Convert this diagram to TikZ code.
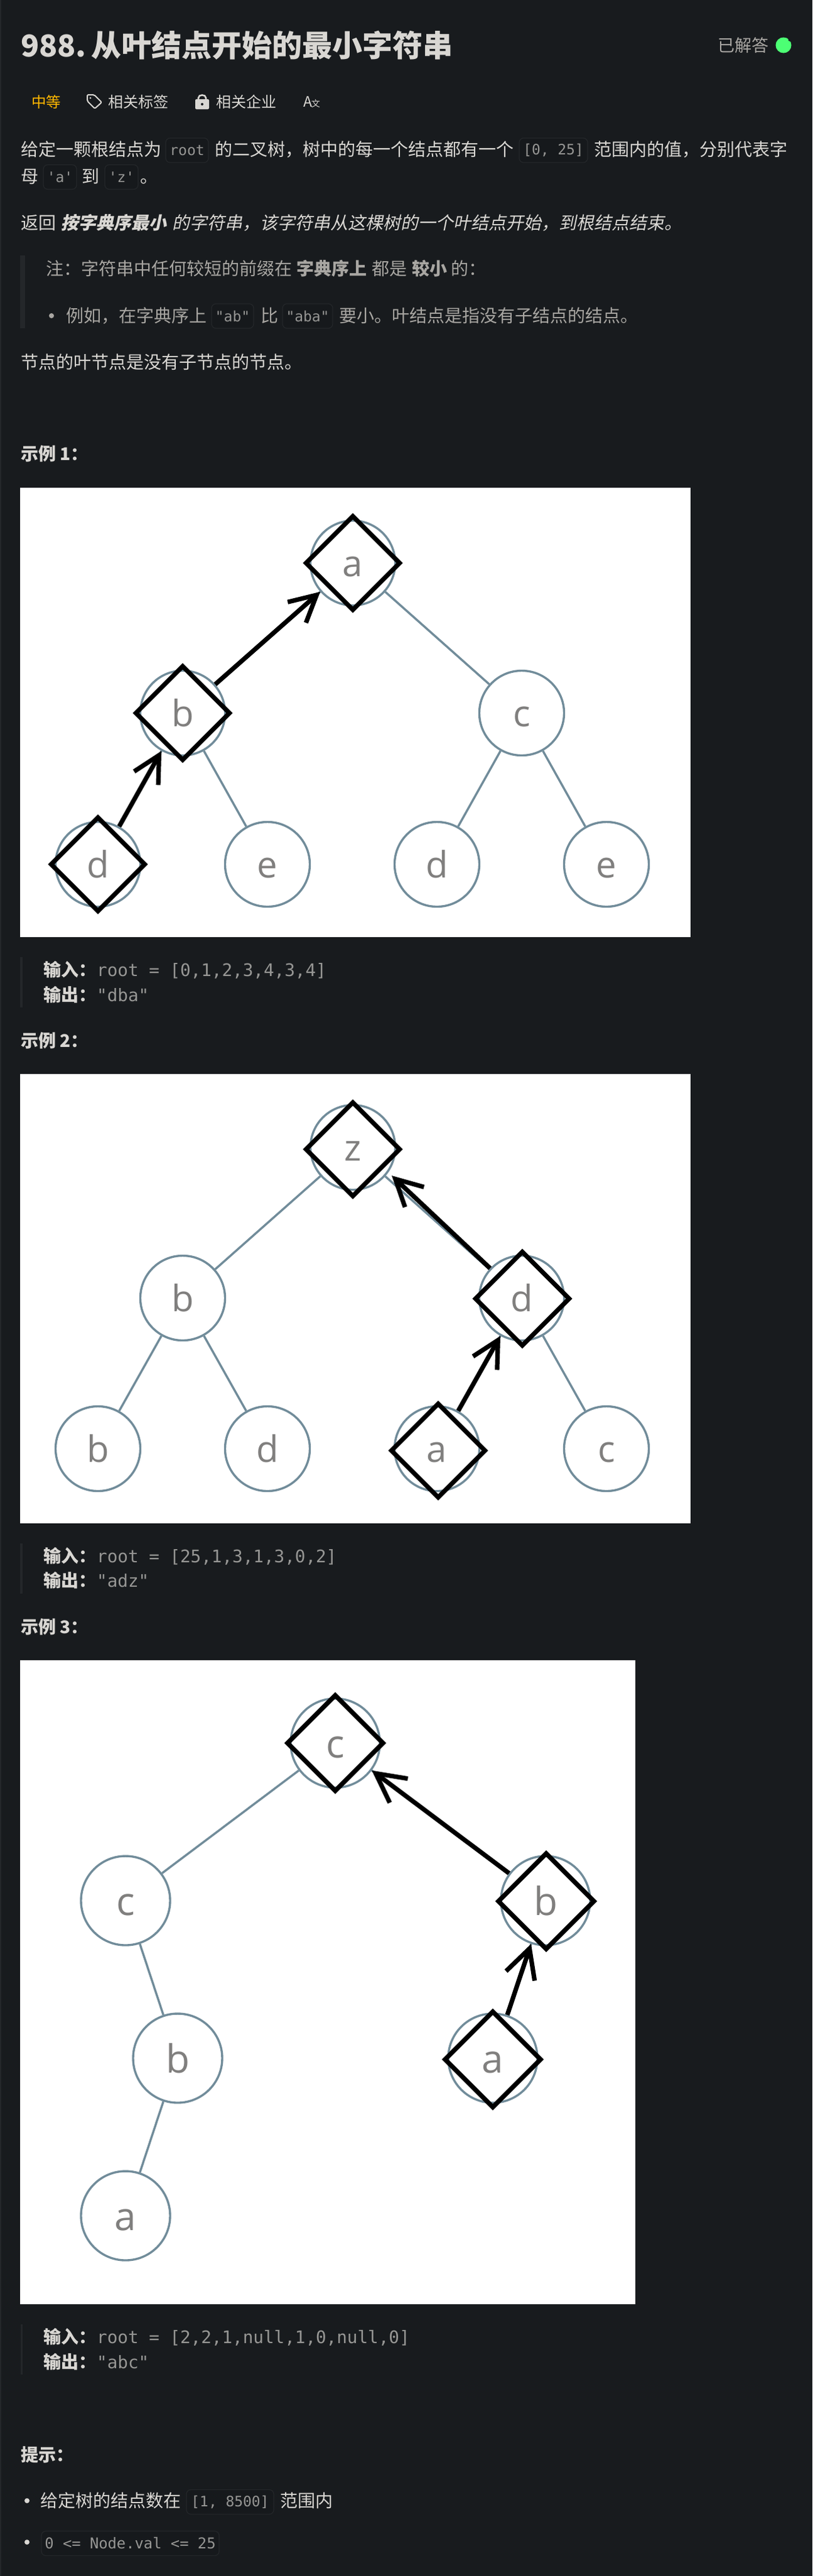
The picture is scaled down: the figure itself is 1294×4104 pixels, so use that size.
\documentclass[tikz,border=0pt]{standalone}
\usepackage{fontspec}
\usetikzlibrary{arrows.meta,shapes.geometric}
\setmainfont{Noto Sans CJK SC}
\newfontfamily\cjkit[FakeSlant=0.2]{Noto Sans CJK SC}
\newfontfamily\monof{DejaVu Sans Mono}
\newfontfamily\treef{Open Sans}
\definecolor{pagebg}{HTML}{181B1E}
\definecolor{maintext}{HTML}{D9D7D3}
\definecolor{softtext}{HTML}{A8A6A2}
\definecolor{monotext}{HTML}{969694}
\definecolor{barcol}{HTML}{24272A}
\definecolor{codeedge}{HTML}{24272A}
\definecolor{codefill}{HTML}{16191C}
\definecolor{treeline}{HTML}{718C9A}
\definecolor{treetext}{HTML}{807F7E}
\definecolor{dotgreen}{HTML}{4CFF74}
\definecolor{easyorange}{HTML}{FFB800}
\tikzset{
  txt/.style={anchor=base west,inner sep=0pt,outer sep=0pt,text=maintext,font=\fontsize{28}{28}\selectfont},
  softt/.style={txt,text=softtext},
  headt/.style={txt,font=\fontsize{28}{28}\selectfont\bfseries},
  monot/.style={anchor=base west,inner sep=0pt,text=monotext,font=\fontsize{27.6}{27.6}\selectfont\monof},
  codebox/.style={rectangle,rounded corners=7pt,draw=codeedge,line width=1.2pt,fill=codefill,minimum height=39pt,inner sep=0pt,anchor=center,text=monotext,font=\fontsize{22.9}{22.9}\selectfont\monof},
  barfill/.style={fill=barcol,draw=none},
  treen/.style={circle,draw=treeline,line width=3.4pt,fill=white,minimum size=135pt,inner sep=0pt,text=treetext,font=\fontsize{58}{58}\selectfont\treef,text height=42pt,text depth=0pt},
  treenb/.style={treen,minimum size=142pt,font=\fontsize{62}{62}\selectfont\treef,text height=46pt},
  treeedge/.style={draw=treeline,line width=3.4pt},
  pathmark/.style={diamond,aspect=1,draw=black,line width=7.2pt,minimum size=152pt,inner sep=0pt},
  pathmarkb/.style={pathmark,minimum size=155pt},
  walk/.style={draw=black,line width=7.2pt,-{Straight Barb[length=42pt,width=44pt,line width=7.2pt]}},
  walkb/.style={draw=black,line width=7.2pt,-{Straight Barb[length=46pt,width=48pt,line width=7.2pt]}},
}
\begin{document}
\begin{tikzpicture}[x=1pt,y=-1pt]
\useasboundingbox (0,0) rectangle (1294,4104);
\fill[pagebg] (0,0) rectangle (1294,4104);
\fill[barcol] (0,0) rectangle (2,4104);
% title
\node[txt,font=\fontsize{48}{48}\selectfont\bfseries] (title) at (33,90) {988.\kern 8pt 从叶结点开始的最小字符串};
\node[txt,text=softtext,font=\fontsize{27}{27}\selectfont] (solved) at (1143,82) {已解答};
\node[circle,fill=dotgreen,minimum size=25pt,inner sep=0pt] (dot) at (1248,72) {};
\fill[pagebg] (1255,59) -- (1262,60) -- (1261,67) -- (1256,65) -- cycle;
% tags
\node[txt,text=easyorange,font=\fontsize{23.5}{23.5}\selectfont] (diff) at (50,171) {中等};
\node[txt,font=\fontsize{24}{24}\selectfont] (tag1) at (172,171) {相关标签};
\draw[maintext,line width=2pt,line join=round,rounded corners=2pt] (139,151) -- (150,151) -- (162,163) -- (151,173) -- (139,161) -- cycle;
\fill[maintext] (144,156) circle (1.5);
\node[txt,font=\fontsize{24}{24}\selectfont] (tag2) at (344,171) {相关企业};
\fill[maintext,rounded corners=2pt] (311,158) rectangle (333,174);
\draw[maintext,line width=2.6pt] (316,159) -- (316,156) .. controls (316,150) and (328,150) .. (328,156) -- (328,159);
\fill[pagebg] (322,166) circle (2);
\node[txt,font=\fontsize{23}{23}\selectfont] (ax) at (483,170) {A\kern-1pt\fontsize{14}{14}\selectfont 文};
% para 1
\node[txt] (p1a) at (33,248) {给定一颗根结点为};
\node[codebox,minimum width=68pt] (c1) at (298,239.5) {root};
\node[txt] (p1b) at (342,248) {的二叉树，树中的每一个结点都有一个};
\node[codebox,minimum width=109pt] (c2) at (881.5,239.5) {[0, 25]};
\node[txt] (p1c) at (946,248) {范围内的值，分别代表字};
\node[txt] (p2a) at (33,291) {母};
\node[codebox,minimum width=53pt] (c3) at (95.5,282) {'a'};
\node[txt] (p2b) at (130,291) {到};
\node[codebox,minimum width=53pt] (c4) at (193.5,282) {'z'};
\node[txt] (p2c) at (223,291) {。};
% para 2
\node[txt] (p3a) at (33,365) {返回};
\node[txt,font=\fontsize{28}{28}\selectfont\cjkit\bfseries] (p3b) at (97,365) {按字典序最小};
\node[txt,font=\fontsize{28}{28}\selectfont\cjkit] (p3c) at (274,365) {的字符串，该字符串从这棵树的一个叶结点开始，到根结点结束。};
% quote
\fill[barfill] (32,407) rectangle (40,523);
\node[softt] (q1a) at (73,438) {注：字符串中任何较短的前缀在};
\node[softt,font=\fontsize{28}{28}\selectfont\bfseries] (q1b) at (472,438) {字典序上};
\node[softt] (q1c) at (592,438) {都是};
\node[softt,font=\fontsize{28}{28}\selectfont\bfseries] (q1d) at (656,438) {较小};
\node[softt] (q1e) at (718,438) {的：};
\fill[softtext] (82,503) circle (4);
\node[softt] (q2a) at (105,513) {例如，在字典序上};
\node[codebox,minimum width=67pt] (c5) at (370.5,503.5) {"ab"};
\node[softt] (q2b) at (415,513) {比};
\node[codebox,minimum width=80pt] (c6) at (490,503.5) {"aba"};
\node[softt] (q2c) at (540,513) {要小。叶结点是指没有子结点的结点。};
\node[txt] (p4) at (33,587) {节点的叶节点是没有子节点的节点。};
\node[headt] (h1) at (33,733) {示例 1：};
% example 1
\fill[white] (32,777) rectangle (1100,1493);
\node[treen] (a1) at (562,897) {a};
\node[treen] (b1) at (291,1136) {b};
\node[treen] (c1n) at (831,1136) {c};
\node[treen] (d1) at (156,1377) {d};
\node[treen] (e1) at (426,1377) {e};
\node[treen] (f1) at (696,1377) {d};
\node[treen] (g1) at (966,1377) {e};
\draw[treeedge] (a1) -- (b1);
\draw[treeedge] (a1) -- (c1n);
\draw[treeedge] (b1) -- (d1);
\draw[treeedge] (b1) -- (e1);
\draw[treeedge] (c1n) -- (f1);
\draw[treeedge] (c1n) -- (g1);
\node[pathmark] (ma1) at (562,897) {};
\node[pathmark] (mb1) at (291,1136) {};
\node[pathmark] (md1) at (156,1377) {};
\draw[walk] (d1) -- (b1);
\draw[walk] (b1) -- (a1);
% io 1
\fill[barfill] (32,1525) rectangle (36,1605);
\node[headt] (i1) at (69,1555) {输入：};
\node[monot] (i1v) at (154,1555) {root = [0,1,2,3,4,3,4]};
\node[headt] (o1) at (69,1595) {输出：};
\node[monot] (o1v) at (154,1595) {"dba"};
\node[headt] (h2) at (33,1668) {示例 2：};
% example 2
\fill[white] (32,1711) rectangle (1100,2427);
\node[treen] (a2) at (562,1828) {z};
\node[treen] (b2) at (291,2068) {b};
\node[treen] (c2n) at (831,2068) {d};
\node[treen] (d2) at (156,2308) {b};
\node[treen] (e2) at (426,2308) {d};
\node[treen] (f2) at (696,2308) {a};
\node[treen] (g2) at (966,2308) {c};
\draw[treeedge] (a2) -- (b2);
\draw[treeedge] (a2) -- (c2n);
\draw[treeedge] (b2) -- (d2);
\draw[treeedge] (b2) -- (e2);
\draw[treeedge] (c2n) -- (f2);
\draw[treeedge] (c2n) -- (g2);
\node[pathmark] (ma2) at (562,1831) {};
\node[pathmark] (mb2) at (832,2069) {};
\node[pathmark] (md2) at (698,2311) {};
\coordinate (tip2) at (624,1873);
\draw[walk] (f2) -- (c2n);
\draw[walk] (c2n) -- (tip2);
% io 2
\fill[barfill] (32,2459) rectangle (36,2539);
\node[headt] (i2) at (69,2489) {输入：};
\node[monot] (i2v) at (154,2489) {root = [25,1,3,1,3,0,2]};
\node[headt] (o2) at (69,2528) {输出：};
\node[monot] (o2v) at (154,2528) {"adz"};
\node[headt] (h3) at (33,2602) {示例 3：};
% example 3
\fill[white] (32,2645) rectangle (1012,3671);
\node[treenb] (a3) at (534,2777) {c};
\node[treenb] (b3) at (200,3028) {c};
\node[treenb] (c3n) at (869,3028) {b};
\node[treenb] (d3) at (283,3279) {b};
\node[treenb] (e3) at (785,3279) {a};
\node[treenb] (f3) at (200,3530) {a};
\draw[treeedge] (a3) -- (b3);
\draw[treeedge] (a3) -- (c3n);
\draw[treeedge] (b3) -- (d3);
\draw[treeedge] (c3n) -- (e3);
\draw[treeedge] (d3) -- (f3);
\node[pathmarkb] (ma3) at (534,2777) {};
\node[pathmarkb] (mb3) at (870,3029) {};
\node[pathmarkb] (md3) at (785,3281) {};
\draw[walkb] (e3) -- (c3n);
\draw[walkb] (c3n) -- (a3);
% io 3
\fill[barfill] (33,3703) rectangle (36,3783);
\node[headt] (i3) at (69,3733) {输入：};
\node[monot] (i3v) at (154,3733) {root = [2,2,1,null,1,0,null,0]};
\node[headt] (o3) at (69,3773) {输出：};
\node[monot] (o3v) at (154,3773) {"abc"};
% hints
\node[headt] (h4) at (33,3921) {提示：};
\fill[maintext] (43,3984) circle (4);
\node[txt] (l1a) at (64,3994) {给定树的结点数在};
\node[codebox,minimum width=139pt] (c7) at (366.5,3986) {[1, 8500]};
\node[txt] (l1b) at (446,3994) {范围内};
\fill[maintext] (43,4050) circle (4);
\node[codebox,minimum width=283pt,font=\fontsize{23.8}{23.8}\selectfont\monof] (c8) at (207.5,4052) {0 <= Node.val <= 25};
\end{tikzpicture}
\end{document}
